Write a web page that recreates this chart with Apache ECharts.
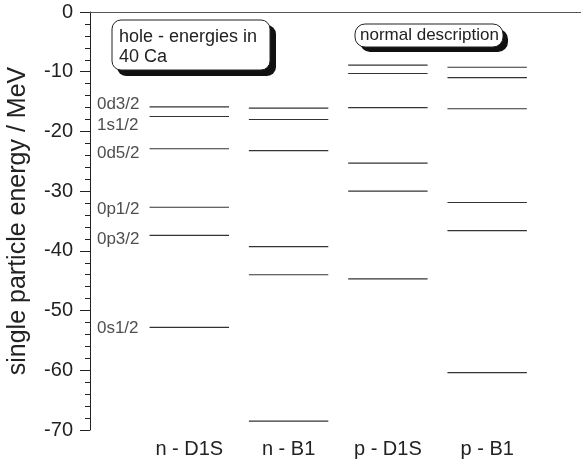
<!DOCTYPE html>
<html>
<head>
<meta charset="utf-8">
<script src="https://cdn.jsdelivr.net/npm/echarts@6/dist/echarts.min.js"></script>
<style>html,body{margin:0;padding:0;background:#fff;}#c{width:581px;height:460px;}</style>
</head>
<body>
<div id="c"></div>
<script>
var categories = ['n - D1S', 'n - B1', 'p - D1S', 'p - B1'];
var nD1S = [-15.9, -17.5, -22.9, -32.7, -37.4, -52.8];
var nB1 = [-16.1, -18.0, -23.2, -39.3, -44.0, -68.5];
var pD1S = [-8.9, -10.3, -16.0, -25.3, -30.0, -44.7];
var pB1 = [-9.25, -11.0, -16.2, -31.9, -36.6, -60.4];
var levelNames = ['0d3/2', '1s1/2', '0d5/2', '0p1/2', '0p3/2', '0s1/2'];
var levelLabelY = [-15.4, -19.0, -23.7, -33.0, -38.1, -53.0];
var yTicks = [0, -10, -20, -30, -40, -50, -60, -70];

var allSets = [nD1S, nB1, pD1S, pB1];
var segData = [];
allSets.forEach(function (arr, i) {
  arr.forEach(function (v) { segData.push([i + 1, v]); });
});
var labelData = levelNames.map(function (n, i) { return { value: [0.07, levelLabelY[i]], name: n }; });

var FONT = 'Liberation Sans, Arial, sans-serif';
var chart = echarts.init(document.getElementById('c'), null, { renderer: 'canvas' });
chart.setOption({
  animation: false,
  backgroundColor: '#fff',
  grid: { left: 90, right: 0, top: 12, bottom: 30, containLabel: false, outerBoundsMode: 'none' },
  xAxis: [{
    type: 'value', min: 0, max: 4.945, interval: 1, position: 'bottom',
    axisLine: { show: true, lineStyle: { color: '#222', width: 1 } },
    axisTick: { show: false },
    splitLine: { show: false },
    axisLabel: {
      showMaxLabel: false, showMinLabel: false,
      margin: 9, color: '#222', fontSize: 20, fontFamily: FONT,
      formatter: function (v) { var k = Math.round(v); return (Math.abs(v - k) < 1e-6 && k >= 1 && k <= categories.length) ? categories[k - 1] : ''; }
    }
  }, {
    type: 'value', min: 0, max: 4.945, position: 'top',
    axisLine: { show: true, lineStyle: { color: '#555', width: 1 } },
    axisTick: { show: false }, axisLabel: { show: false }, splitLine: { show: false }
  }],
  yAxis: {
    type: 'value', min: yTicks[yTicks.length - 1], max: yTicks[0], interval: 10,
    name: 'single particle energy / MeV', nameLocation: 'middle', nameGap: 59,
    nameTextStyle: { fontSize: 25, color: '#222', fontFamily: FONT },
    axisLine: { show: true, lineStyle: { color: '#222', width: 1 } },
    axisTick: { show: true, inside: false, length: 10, lineStyle: { color: '#222' } },
    minorTick: { show: true, splitNumber: 5, length: 5, lineStyle: { color: '#222' } },
    splitLine: { show: false },
    axisLabel: { margin: 17, color: '#222', fontSize: 20, fontFamily: FONT }
  },
  series: [{
    type: 'custom',
    data: segData,
    renderItem: function (params, api) {
      var x = api.value(0), y = api.value(1);
      var p1 = api.coord([x - 0.4, y]);
      var p2 = api.coord([x + 0.4, y]);
      return {
        type: 'line',
        shape: { x1: p1[0], y1: p1[1], x2: p2[0], y2: p2[1] },
        style: { stroke: '#333', lineWidth: 1.2 }
      };
    }
  }, {
    type: 'scatter',
    data: labelData,
    symbolSize: 0,
    silent: true,
    label: {
      show: true, position: 'right', distance: 0,
      formatter: function (p) { return p.name; },
      color: '#222', fontSize: 17, fontFamily: FONT
    }
  }],
  graphic: [
    { type: 'rect', shape: { x: 117, y: 25, width: 159, height: 51, r: 9 }, style: { fill: '#111' } },
    { type: 'rect', shape: { x: 112, y: 20, width: 158, height: 50, r: 9 }, style: { fill: '#fff', stroke: '#222', lineWidth: 1 } },
    { type: 'text', left: 119, top: 27, style: { text: 'hole - energies in\n40 Ca', fontSize: 18, lineHeight: 20, fontFamily: FONT, fill: '#222' } },
    { type: 'rect', shape: { x: 360, y: 29, width: 148, height: 23, r: 10 }, style: { fill: '#111' } },
    { type: 'rect', shape: { x: 355, y: 24, width: 148, height: 23, r: 10 }, style: { fill: '#fff', stroke: '#222', lineWidth: 1 } },
    { type: 'text', left: 360, top: 27, style: { text: 'normal description', fontSize: 17, fontFamily: FONT, fill: '#222' } }
  ]
});
</script>
</body>
</html>
